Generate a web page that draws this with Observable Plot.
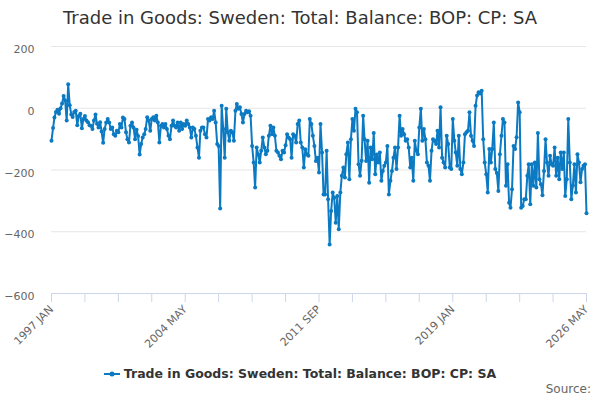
<!DOCTYPE html>
<html>
<head>
<meta charset="utf-8">
<script src="https://cdn.jsdelivr.net/npm/d3@7"></script>
<script src="https://cdn.jsdelivr.net/npm/@observablehq/plot@0.6"></script>
<style>
  body { margin: 0; background: #fff; font-family: "DejaVu Sans", sans-serif; }
  #wrap { position: relative; width: 600px; height: 400px; overflow: hidden; background: #fff; }
  #title { position: absolute; left: 0; top: 7px; width: 600px; text-align: center; font-size: 18px; color: #333; line-height: 22px; white-space: nowrap; }
  #chart { position: absolute; left: 0; top: 38px; }
  #chart svg { overflow: visible; }
  #legend { position: absolute; left: 0; top: 366px; width: 600px; text-align: center; font-size: 12.5px; font-weight: bold; color: #333; white-space: nowrap; line-height: 16px; }
  #legend svg { vertical-align: middle; margin-right: 4px; position: relative; top: -1px; }
  #source { position: absolute; right: 9px; top: 381px; font-size: 12px; color: #666; line-height: 16px; }
</style>
</head>
<body>
<div id="wrap">
  <div id="title">Trade in Goods: Sweden: Total: Balance: BOP: CP: SA</div>
  <div id="chart"></div>
  <div id="legend"></div>
  <div id="source">Source:</div>
</div>
<script>
// Monthly values, one array per year (1997 JAN – 2026 MAY)
const y1997 = [-105, -64, -30, -12, -5, -18, 0, 15, 40, 25, -40, 78];
const y1998 = [10, -20, -28, -12, -8, -55, -25, -18, -65, -35, -25, -40];
const y1999 = [-45, -55, -57, -67, -40, -20, -50, -62, -45, -75, -112, -67];
const y2000 = [-46, -35, -46, -67, -62, -84, -89, -73, -78, -51, -62, -30];
const y2001 = [-35, -78, -100, -111, -57, -46, -62, -100, -70, -90, -150, -116];
const y2002 = [-95, -84, -67, -29, -40, -73, -35, -29, -40, -24, -46, -111];
const y2003 = [-57, -51, -62, -51, -67, -89, -100, -57, -40, -57, -62, -46];
const y2004 = [-73, -46, -67, -51, -57, -40, -51, -62, -95, -62, -67, -89];
const y2005 = [-127, -160, -73, -62, -62, -84, -95, -35, -40, -29, -35, -8];
const y2006 = [-46, -116, -122, -325, 8, -67, -160, -2, -78, -105, -73, -78];
const y2007 = [-105, -8, 14, -2, 3, -19, -46, -19, -8, -13, -10, -24];
const y2008 = [-122, -176, -257, -127, -149, -176, -138, -95, -127, -149, -138, -89];
const y2009 = [-57, -84, -62, -89, -138, -143, -154, -165, -138, -143, -120, -84];
const y2010 = [-95, -100, -160, -84, -89, -111, -51, -40, -111, -127, -192, -133];
const y2011 = [-150, -154, -35, -51, -89, -122, -171, -160, -208, -51, -143, -279];
const y2012 = [-279, -138, -295, -441, -333, -273, -290, -371, -284, -392, -273, -219];
const y2013 = [-192, -224, -149, -111, -230, -100, -35, -73, -2, -13, -181, -219];
const y2014 = [-170, -24, -100, -171, -105, -241, -127, -165, -80, -214, -150, -176];
const y2015 = [-143, -235, -203, -186, -176, -122, -279, -235, -203, -160, -127, -197];
const y2016 = [-127, -24, -89, -67, -84, -105, -100, -127, -192, -160, -235, -105];
const y2017 = [-138, -149, -62, -2, -105, -67, -100, -176, -186, -235, -138, -100];
const y2018 = [-105, -116, -73, -127, 3, -160, -176, -192, -89, -116, -192, -197];
const y2019 = [-35, -105, -143, -186, -89, -197, -214, -176, -84, -78, -73, -13];
const y2020 = [-89, -105, -122, 8, 41, 52, 48, 57, -100, -176, -214, -273];
const y2021 = [-132, -176, -132, -46, -197, -210, -268, -149, -89, -35, -46, -251];
const y2022 = [-181, -306, -322, -262, -122, -132, -94, 19, -13, -322, -317, -295];
const y2023 = [-295, -219, -181, -311, -181, -251, -176, -257, -80, -230, -246, -282];
const y2024 = [-203, -100, -176, -219, -154, -181, -186, -127, -219, -160, -230, -143];
const y2025 = [-197, -143, -284, -230, -35, -176, -295, -250, -181, -273, -149, -176];
const y2026 = [-240, -197, -186, -181, -340];

const monthNames = ["JAN","FEB","MAR","APR","MAY","JUN","JUL","AUG","SEP","OCT","NOV","DEC"];
const xLabels = ["1997 JAN", "2004 MAY", "2011 SEP", "2019 JAN", "2026 MAY"];
const yTicks = [200, 0, -200, -400, -600];
const seriesName = "Trade in Goods: Sweden: Total: Balance: BOP: CP: SA";
const color = "#0b7ac2";

const years = [y1997,y1998,y1999,y2000,y2001,y2002,y2003,y2004,y2005,y2006,y2007,y2008,y2009,y2010,y2011,y2012,y2013,y2014,y2015,y2016,y2017,y2018,y2019,y2020,y2021,y2022,y2023,y2024,y2025,y2026];
const values = years.flat();
const data = values.map((v, i) => ({date: new Date(Date.UTC(1997, i, 1)), value: v}));

const parseLabel = s => { const [y, m] = s.split(" "); return new Date(Date.UTC(+y, monthNames.indexOf(m), 1)); };
const labelDates = xLabels.map(parseLabel);
// tick marks every 22 months (category axis style)
const tickDates = d3.range(0, data.length, 22).map(i => data[i].date);
const fmt = d => `${d.getUTCFullYear()} ${monthNames[d.getUTCMonth()]}`;

const chart = Plot.plot({
  width: 600,
  height: 325,
  marginTop: 8,
  marginLeft: 51,
  marginRight: 14,
  marginBottom: 70,
  style: {color: "#666", fontFamily: "DejaVu Sans, sans-serif", fontSize: "11px", background: "transparent"},
  x: {type: "utc", domain: [data[0].date, data[data.length - 1].date]},
  y: {domain: [-600, 200]},
  marks: [
    Plot.gridY(yTicks, {stroke: "#e6e6e6", strokeOpacity: 1}),
    Plot.axisY(yTicks, {tickSize: 0, tickPadding: 17, label: null, dy: 3, fill: "#666"}),
    Plot.ruleY([-600], {stroke: "#ccd6eb"}),
    Plot.axisX(tickDates, {tickSize: 9, stroke: "#ccd6eb", tickFormat: () => "", label: null}),
    Plot.axisX(labelDates, {tickSize: 0, tickPadding: 14, tickRotate: -45, tickFormat: fmt, label: null, fill: "#666", fontSize: 11}),
    Plot.line(data, {x: "date", y: "value", stroke: color, strokeWidth: 2}),
    Plot.dot(data, {x: "date", y: "value", r: 2, fill: color, stroke: "none"})
  ]
});
document.getElementById("chart").appendChild(chart);

document.getElementById("legend").innerHTML =
  `<svg width="16" height="10"><line x1="0" y1="5" x2="16" y2="5" stroke="${color}" stroke-width="2"/><circle cx="8" cy="5" r="2.5" fill="${color}"/></svg>${seriesName}`;
</script>
</body>
</html>
